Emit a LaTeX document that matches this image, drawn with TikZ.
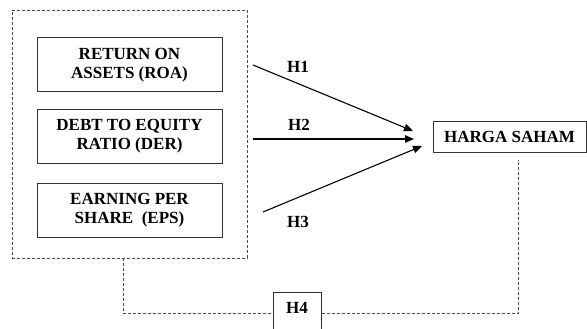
\documentclass[tikz,border=0pt]{standalone}
\usepackage{fontspec}
\setmainfont{Liberation Serif}
\usetikzlibrary{arrows.meta}
\tikzstyle{varbox} = [draw=black!80, fill=white, line width=1pt,
    rectangle, minimum width=185pt, minimum height=54pt, align=center,
    font=\fontsize{17}{19}\selectfont\bfseries]
\tikzstyle{hlabel} = [font=\fontsize{17}{19}\selectfont\bfseries, inner sep=0pt]
\tikzstyle{hyp} = [-{Triangle[length=9pt,width=7.5pt]}, line width=1.1pt]
\tikzstyle{dashline} = [draw=black!70, line width=0.9pt, dash pattern=on 3pt off 2pt]

\begin{document}
\begin{tikzpicture}[x=1pt,y=-1pt]
                \useasboundingbox (0,0) rectangle (587,329);
                % independent variables
                \node [dashline, minimum width=235pt, minimum height=248pt] (grp) at (129.5,134) {};
                \node [varbox] (roa) at (129.5,65) {RETURN ON\\ASSETS (ROA)};
                \node [varbox] (der) at (129.5,136.5) {DEBT TO EQUITY\\RATIO (DER)};
                \node [varbox] (eps) at (129.5,210.5) {EARNING PER\\SHARE\ \ (EPS)};
                % dependent variable
                \node [varbox, minimum width=153pt, minimum height=30pt] (hs) at (509.5,137) {HARGA SAHAM};
                \node [varbox, minimum width=48pt, minimum height=0pt, inner sep=0pt,
                    text height=21pt, text depth=22pt] (h4) at (297,313.5) {H4};
                % hypotheses
                \coordinate (s1) at (253,65);  \coordinate (t1) at (413,131);
                \coordinate (s2) at (253,139); \coordinate (t2) at (414,139);
                \coordinate (s3) at (263,212); \coordinate (t3) at (422,146);
                \draw [hyp] (s1) -- (t1);
                \draw [hyp] (s2) -- (t2);
                \draw [hyp] (s3) -- (t3);
                \node [hlabel] (h1) at (298,67) {H1};
                \node [hlabel] (h2) at (299,124.5) {H2};
                \node [hlabel] (h3) at (298,222) {H3};
                % simultaneous
                \draw [dashline] ([xshift=-6.5pt]grp.south) |- (h4.west);
                \draw [dashline] (h4.east) -| ([xshift=8.5pt,yshift=-7pt]hs.south);
            \end{tikzpicture}
\end{document}
